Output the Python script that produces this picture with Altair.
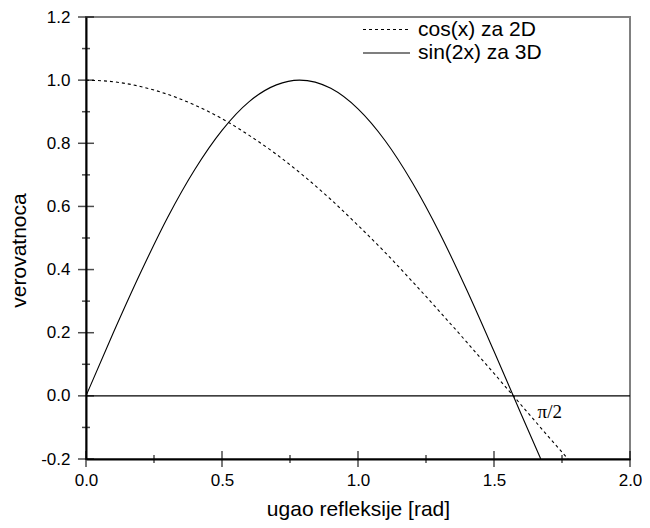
import altair as alt
import pandas as pd

# cos(x) curve (2D)
cos_x = [0.0, 0.1, 0.2, 0.3, 0.4, 0.5, 0.6, 0.7, 0.8, 0.9, 1.0, 1.1, 1.2, 1.3, 1.4, 1.5, 1.6, 1.7, 1.772]
cos_y = [1.000, 0.995, 0.980, 0.955, 0.921, 0.878, 0.825, 0.765, 0.697, 0.622, 0.540, 0.454, 0.362, 0.267, 0.170, 0.071, -0.029, -0.129, -0.200]

# sin(2x) curve (3D)
sin_x = [0.0, 0.1, 0.2, 0.3, 0.4, 0.5, 0.6, 0.7, 0.785, 0.9, 1.0, 1.1, 1.2, 1.3, 1.4, 1.5, 1.6, 1.672]
sin_y = [0.000, 0.199, 0.389, 0.565, 0.717, 0.841, 0.932, 0.985, 1.000, 0.974, 0.909, 0.808, 0.675, 0.516, 0.335, 0.141, -0.058, -0.200]

x_major = [0.0, 0.5, 1.0, 1.5, 2.0]
x_minor = [0.25, 0.75, 1.25, 1.75]
y_major = [-0.2, 0.0, 0.2, 0.4, 0.6, 0.8, 1.0, 1.2]
y_minor = [-0.1, 0.1, 0.3, 0.5, 0.7, 0.9, 1.1]

legend_labels = ["cos(x) za 2D", "sin(2x) za 3D"]
annot_text = ["π/2"]
annot_x = [1.705]
annot_y = [-0.05]

W, H = 544, 442
FONT = "Liberation Sans"
LABEL_EXPR = "datum.value < 0 ? '-' + format(-datum.value, '.1f') : format(datum.value, '.1f')"

xs = alt.Scale(domain=[0, 2], nice=False, zero=False)
ys = alt.Scale(domain=[-0.2, 1.2], nice=False, zero=False)

cos_df = pd.DataFrame({"x": cos_x, "y": cos_y})
sin_df = pd.DataFrame({"x": sin_x, "y": sin_y})

base_axes = alt.Chart(pd.DataFrame({"x": [0.0], "y": [0.0]})).mark_point(opacity=0).encode(
    x=alt.X("x:Q", scale=xs, axis=alt.Axis(
        title="ugao refleksije [rad]", values=x_major, labelExpr=LABEL_EXPR,
        ticks=False, grid=False, labelPadding=13, labelFontSize=17, labelFont=FONT,
        labelColor="black", domainColor="black", domainWidth=2,
        titleFont=FONT, titleFontSize=21, titleFontWeight="normal", titleColor="black",
        titleY=56, titleBaseline="alphabetic", labelFlush=False)),
    y=alt.Y("y:Q", scale=ys, axis=alt.Axis(
        title="verovatnoca", values=y_major, labelExpr=LABEL_EXPR,
        ticks=False, grid=False, labelPadding=16, labelFontSize=17, labelFont=FONT,
        labelColor="black", domainColor="black", domainWidth=2,
        titleFont=FONT, titleFontSize=21, titleFontWeight="normal", titleColor="black",
        titleX=-61, titleY=233, titleBaseline="alphabetic", titleAngle=-90, labelFlush=False)),
)

zero_line = alt.Chart(pd.DataFrame({"y": [0.0]})).mark_rule(color="black", strokeWidth=1.2).encode(
    y=alt.Y("y:Q", scale=ys), x=alt.value(0), x2=alt.value(W))

cos_line = alt.Chart(cos_df).mark_line(color="black", strokeWidth=1.1, strokeDash=[3, 3], interpolate="monotone").encode(
    x=alt.X("x:Q", scale=xs), y=alt.Y("y:Q", scale=ys))
sin_line = alt.Chart(sin_df).mark_line(color="black", strokeWidth=1.1, interpolate="monotone").encode(
    x=alt.X("x:Q", scale=xs), y=alt.Y("y:Q", scale=ys))

xt_major = alt.Chart(pd.DataFrame({"x": x_major})).mark_tick(color="black", size=16, thickness=1.5).encode(
    x=alt.X("x:Q", scale=xs), y=alt.value(H))
xt_minor = alt.Chart(pd.DataFrame({"x": x_minor})).mark_tick(color="black", size=8, thickness=1.5).encode(
    x=alt.X("x:Q", scale=xs), y=alt.value(H))
yt_major = alt.Chart(pd.DataFrame({"y": y_major})).mark_tick(color="black", size=16, thickness=1.5).encode(
    y=alt.Y("y:Q", scale=ys), x=alt.value(0))
yt_minor = alt.Chart(pd.DataFrame({"y": y_minor})).mark_tick(color="black", size=8, thickness=1.5).encode(
    y=alt.Y("y:Q", scale=ys), x=alt.value(0))

leg_dash = alt.Chart(pd.DataFrame({"a": [0]})).mark_rule(color="black", strokeWidth=1.1, strokeDash=[3, 3]).encode(
    x=alt.value(277), x2=alt.value(324), y=alt.value(12.5))
leg_solid = alt.Chart(pd.DataFrame({"a": [0]})).mark_rule(color="black", strokeWidth=1.1).encode(
    x=alt.value(277), x2=alt.value(324), y=alt.value(36))
leg_t1 = alt.Chart(pd.DataFrame({"t": [legend_labels[0]]})).mark_text(
    align="left", baseline="middle", font=FONT, fontSize=21, color="black").encode(
    text="t:N", x=alt.value(332), y=alt.value(12.5))
leg_t2 = alt.Chart(pd.DataFrame({"t": [legend_labels[1]]})).mark_text(
    align="left", baseline="middle", font=FONT, fontSize=21, color="black").encode(
    text="t:N", x=alt.value(332), y=alt.value(36))

annot = alt.Chart(pd.DataFrame({"t": annot_text, "x": annot_x, "y": annot_y})).mark_text(
    align="center", baseline="middle", font="Liberation Serif", fontSize=19, color="black").encode(
    text="t:N", x=alt.X("x:Q", scale=xs), y=alt.Y("y:Q", scale=ys))

chart = alt.layer(
    base_axes, zero_line, cos_line, sin_line,
    xt_major, xt_minor, yt_major, yt_minor,
    leg_dash, leg_solid, leg_t1, leg_t2, annot,
).properties(
    width=W, height=H,
    autosize=alt.AutoSizeParams(type="none"),
    padding={"left": 78, "top": 9, "right": 12, "bottom": 61},
    background="white",
).configure_view(stroke="#808080", strokeWidth=2)

chart.save("out.html", embed_options={"renderer": "svg", "actions": False})
